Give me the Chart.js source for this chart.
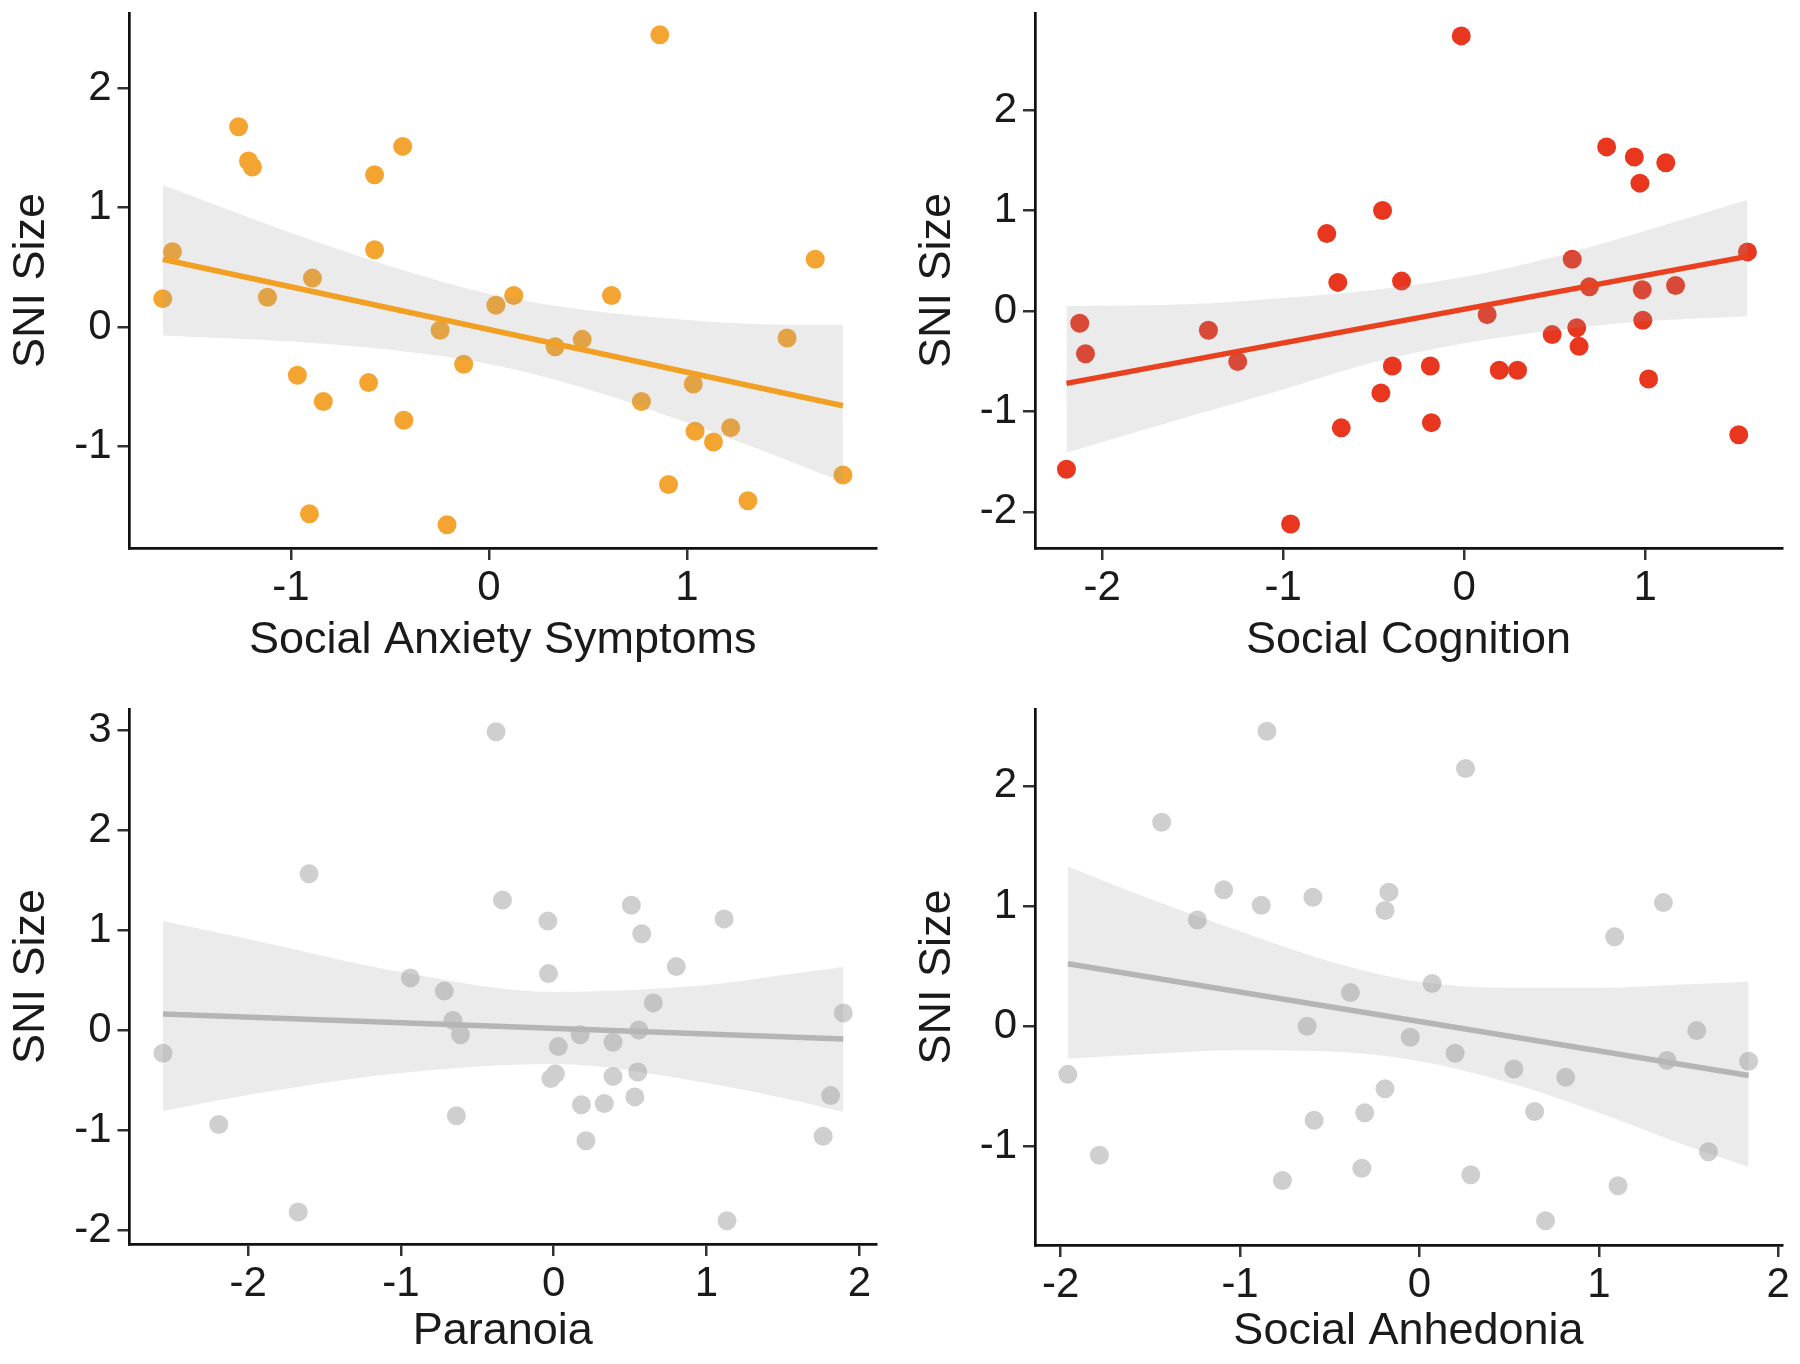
<!DOCTYPE html>
<html><head><meta charset="utf-8">
<script src="https://cdn.jsdelivr.net/npm/chart.js@4.4.1/dist/chart.umd.min.js"></script>
<style>
html,body{margin:0;padding:0;background:#fff;}
#wrap{position:relative;width:1800px;height:1364px;background:#fff;overflow:hidden;}
canvas{position:absolute;}
</style></head><body>
<div id="wrap">
<canvas id="c1" width="900" height="682" style="left:0px;top:0px"></canvas>
<canvas id="c2" width="900" height="682" style="left:900px;top:0px"></canvas>
<canvas id="c3" width="900" height="682" style="left:0px;top:682px"></canvas>
<canvas id="c4" width="900" height="682" style="left:900px;top:682px"></canvas>
</div>
<script>
// ---------- Panel 1: Social Anxiety Symptoms ----------
const p1Title = "Social Anxiety Symptoms";
const p1X = [-1.648, -1.599, -1.265, -1.215, -1.195, -1.119, -0.892, -0.968, -0.837, -0.907, -0.578, -0.578, -0.608, -0.436, -0.430, -0.247, -0.128, -0.212, 0.035, 0.125, 0.334, 0.471, 0.619, 0.863, 0.770, 0.907, 1.032, 1.041, 1.134, 1.221, 1.308, 1.506, 1.648, 1.788];
const p1Y = [0.238, 0.630, 1.678, 1.390, 1.340, 0.249, 0.410, -0.403, -0.623, -1.564, 1.275, 0.648, -0.465, 1.513, -0.780, -0.026, -0.311, -1.656, 0.183, 0.264, -0.165, -0.103, 0.264, 2.447, -0.623, -1.319, -0.476, -0.872, -0.963, -0.842, -1.454, -0.092, 0.568, -1.238];
const p1LineX = [-1.648, 1.788];
const p1LineY = [0.568, -0.659];
const p1BandX = [-1.648, -1.0, -0.5, 0.0, 0.5, 1.0, 1.5, 1.788];
const p1BandUp = [1.19, 0.79, 0.51, 0.28, 0.14, 0.06, 0.02, 0.02];
const p1BandLo = [-0.07, -0.12, -0.19, -0.31, -0.52, -0.80, -1.11, -1.30];
const p1XTicks = [-1, 0, 1];
const p1YTicks = [-1, 0, 1, 2];
const p1XRange = [-1.816, 1.955];
const p1YRange = [-1.85, 2.63];

// ---------- Panel 2: Social Cognition ----------
const p2Title = "Social Cognition";
const p2X = [-2.197, -2.124, -2.092, -1.413, -1.251, -0.959, -0.759, -0.698, -0.679, -0.451, -0.397, -0.346, -0.460, -0.187, -0.181, -0.016, 0.127, 0.194, 0.295, 0.486, 0.597, 0.622, 0.635, 0.692, 0.787, 0.940, 0.971, 0.984, 0.987, 1.019, 1.114, 1.168, 1.517, 1.565];
const p2Y = [-1.575, -0.121, -0.425, -0.191, -0.503, -2.121, 0.772, 0.286, -1.163, 1.002, -0.547, 0.299, -0.816, -0.547, -1.111, 2.742, -0.035, -0.590, -0.590, -0.234, 0.516, -0.165, -0.351, 0.243, 1.636, 1.536, 1.275, 0.213, -0.091, -0.677, 1.479, 0.256, -1.232, 0.590];
const p2LineX = [-2.197, 1.565];
const p2LineY = [-0.72, 0.545];
const p2BandX = [-2.197, -1.5, -1.0, -0.5, 0.0, 0.5, 1.0, 1.565];
const p2BandUp = [0.05, 0.07, 0.13, 0.21, 0.34, 0.54, 0.80, 1.11];
const p2BandLo = [-1.41, -1.04, -0.78, -0.51, -0.32, -0.19, -0.10, -0.05];
const p2XTicks = [-2, -1, 0, 1];
const p2YTicks = [-2, -1, 0, 1, 2];
const p2XRange = [-2.371, 1.756];
const p2YRange = [-2.36, 2.97];

// ---------- Panel 3: Paranoia ----------
const p3Title = "Paranoia";
const p3X = [-2.557, -2.192, -1.672, -1.601, -0.938, -0.716, -0.659, -0.610, -0.637, -0.377, -0.335, -0.038, -0.034, -0.019, 0.011, 0.030, 0.173, 0.181, 0.211, 0.331, 0.388, 0.388, 0.508, 0.531, 0.550, 0.557, 0.576, 0.652, 0.802, 1.115, 1.134, 1.763, 1.812, 1.895];
const p3Y = [-0.232, -0.945, -1.820, 1.562, 0.521, 0.389, 0.096, -0.048, -0.857, 2.983, 1.299, 1.089, 0.564, -0.486, -0.437, -0.166, -0.048, -0.748, -1.107, -0.735, -0.122, -0.464, 1.247, -0.669, -0.420, 0.000, 0.962, 0.271, 0.634, 1.111, -1.907, -1.063, -0.656, 0.171];
const p3LineX = [-2.557, 1.895];
const p3LineY = [0.16, -0.09];
const p3BandX = [-2.557, -2.0, -1.0, 0.0, 1.0, 1.5, 1.895];
const p3BandUp = [1.09, 0.91, 0.58, 0.38, 0.45, 0.55, 0.63];
const p3BandLo = [-0.81, -0.65, -0.43, -0.34, -0.53, -0.68, -0.82];
const p3XTicks = [-2, -1, 0, 1, 2];
const p3YTicks = [-2, -1, 0, 1, 2, 3];
const p3XRange = [-2.776, 2.109];
const p3YRange = [-2.14, 3.21];

// ---------- Panel 4: Social Anhedonia ----------
const p4Title = "Social Anhedonia";
const p4X = [-1.960, -1.784, -1.437, -1.238, -1.091, -0.882, -0.850, -0.764, -0.626, -0.594, -0.587, -0.385, -0.321, -0.305, -0.192, -0.192, -0.170, -0.051, 0.071, 0.199, 0.257, 0.286, 0.526, 0.642, 0.703, 0.815, 1.088, 1.107, 1.360, 1.380, 1.546, 1.611, 1.835];
const p4Y = [-0.400, -1.073, 1.698, 0.884, 1.135, 1.007, 2.455, -1.284, 0.000, 1.073, -0.782, 0.280, -1.182, -0.720, -0.520, 0.964, 1.116, -0.091, 0.356, -0.225, 2.145, -1.236, -0.356, -0.709, -1.618, -0.425, 0.745, -1.327, 1.029, -0.284, -0.036, -1.044, -0.291];
const p4LineX = [-1.960, 1.835];
const p4LineY = [0.52, -0.41];
const p4BandX = [-1.96, -1.5, -1.0, -0.5, 0.0, 0.5, 1.0, 1.5, 1.835];
const p4BandUp = [1.33, 1.06, 0.79, 0.54, 0.37, 0.32, 0.32, 0.35, 0.37];
const p4BandLo = [-0.27, -0.23, -0.20, -0.21, -0.29, -0.47, -0.72, -1.00, -1.17];
const p4XTicks = [-2, -1, 0, 1, 2];
const p4YTicks = [-1, 0, 1, 2];
const p4XRange = [-2.143, 2.021];
const p4YRange = [-1.82, 2.64];

const yTitle = "SNI Size";

Chart.defaults.font.family = "'Liberation Sans', Arial, sans-serif";
Chart.defaults.color = '#1a1a1a';

const TXT = '#1a1a1a';
const BAND = 'rgba(153,153,153,0.2)';

function pairs(xs, ys) { return xs.map((v, i) => ({ x: v, y: ys[i] })); }

function build(id, d, L) {
  new Chart(document.getElementById(id), {
    type: 'scatter',
    data: {
      datasets: [
        { type: 'scatter', data: pairs(d.x, d.y), pointRadius: 9.5, pointHoverRadius: 9.5,
          pointBackgroundColor: d.pointColor, pointBorderWidth: 0, order: 3 },
        { type: 'line', data: pairs(d.bandX, d.bandUp), showLine: true, borderWidth: 0,
          borderColor: 'transparent', pointRadius: 0, fill: '+1', backgroundColor: BAND,
          cubicInterpolationMode: 'monotone', order: 2 },
        { type: 'line', data: pairs(d.bandX, d.bandLo), showLine: true, borderWidth: 0,
          borderColor: 'transparent', pointRadius: 0, fill: false,
          cubicInterpolationMode: 'monotone', order: 2 },
        { type: 'line', data: pairs(d.lineX, d.lineY), showLine: true, borderWidth: 5.5,
          borderColor: d.lineColor, pointRadius: 0, fill: false, order: 1 }
      ]
    },
    options: {
      responsive: false, animation: false, devicePixelRatio: 1,
      layout: { padding: { top: L.padTop, right: L.padRight, left: 0, bottom: 0 } },
      plugins: { legend: { display: false }, tooltip: { enabled: false } },
      scales: {
        x: {
          type: 'linear', position: 'bottom', min: d.xRange[0], max: d.xRange[1],
          afterBuildTicks: s => { s.ticks = d.xTicks.map(v => ({ value: v })); },
          afterFit: s => { s.height = L.xH; s.paddingLeft = 0; s.paddingRight = 0; },
          ticks: { font: { size: 42 }, color: TXT, padding: 3, maxRotation: 0, autoSkip: false,
                   callback: v => String(v) },
          grid: { drawOnChartArea: false, drawTicks: true, tickLength: 12, color: '#333', lineWidth: 2.5 },
          border: { display: true, color: '#111', width: 2.7 },
          title: { display: true, text: d.xTitle, font: { size: 45 }, color: TXT,
                   padding: { top: 0, bottom: L.xTitlePad } }
        },
        y: {
          type: 'linear', position: 'left', min: d.yRange[0], max: d.yRange[1],
          afterBuildTicks: s => { s.ticks = d.yTicks.map(v => ({ value: v })); },
          afterFit: s => { s.width = L.yW; s.paddingTop = 0; s.paddingBottom = 0; },
          ticks: { font: { size: 42 }, color: TXT, padding: 6, autoSkip: false,
                   callback: v => String(v) },
          grid: { drawOnChartArea: false, drawTicks: true, tickLength: 12, color: '#333', lineWidth: 2.5 },
          border: { display: true, color: '#111', width: 2.7 },
          title: { display: true, text: yTitle, font: { size: 45 }, color: TXT,
                   padding: { top: L.yTitlePad, bottom: 0 } }
        }
      }
    }
  });
}

build('c1', { x: p1X, y: p1Y, lineX: p1LineX, lineY: p1LineY, bandX: p1BandX, bandUp: p1BandUp, bandLo: p1BandLo,
  xTicks: p1XTicks, yTicks: p1YTicks, xRange: p1XRange, yRange: p1YRange, xTitle: p1Title,
  pointColor: '#F4A431', lineColor: '#F2A024' },
  { padTop: 13, padRight: 24, yW: 129.5, xH: 134, yTitlePad: 4.6, xTitlePad: 14 });

build('c2', { x: p2X, y: p2Y, lineX: p2LineX, lineY: p2LineY, bandX: p2BandX, bandUp: p2BandUp, bandLo: p2BandLo,
  xTicks: p2XTicks, yTicks: p2YTicks, xRange: p2XRange, yRange: p2YRange, xTitle: p2Title,
  pointColor: '#E8361F', lineColor: '#E9401F' },
  { padTop: 13, padRight: 18, yW: 135, xH: 134, yTitlePad: 10.4, xTitlePad: 14 });

build('c3', { x: p3X, y: p3Y, lineX: p3LineX, lineY: p3LineY, bandX: p3BandX, bandUp: p3BandUp, bandLo: p3BandLo,
  xTicks: p3XTicks, yTicks: p3YTicks, xRange: p3XRange, yRange: p3YRange, xTitle: p3Title,
  pointColor: '#CFCFCF', lineColor: '#B5B5B5' },
  { padTop: 27, padRight: 24, yW: 129.5, xH: 120, yTitlePad: 4.6, xTitlePad: 5 });

build('c4', { x: p4X, y: p4Y, lineX: p4LineX, lineY: p4LineY, bandX: p4BandX, bandUp: p4BandUp, bandLo: p4BandLo,
  xTicks: p4XTicks, yTicks: p4YTicks, xRange: p4XRange, yRange: p4YRange, xTitle: p4Title,
  pointColor: '#CFCFCF', lineColor: '#B5B5B5' },
  { padTop: 27, padRight: 18, yW: 135, xH: 119, yTitlePad: 10.4, xTitlePad: 5 });
</script>
</body></html>
